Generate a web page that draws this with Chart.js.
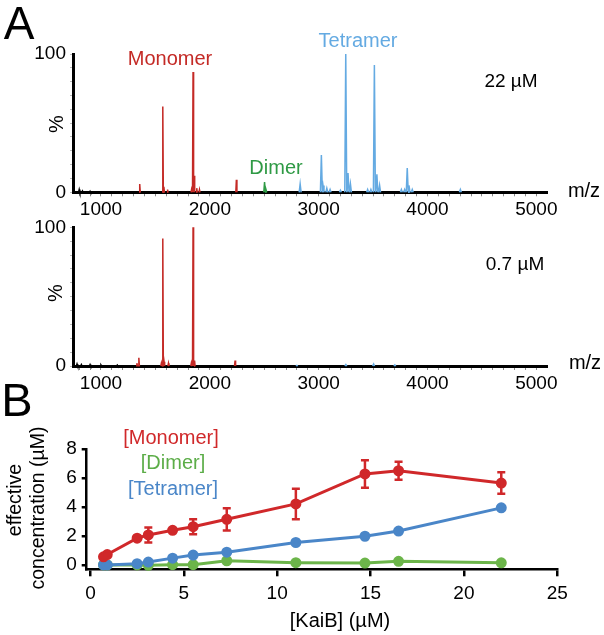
<!DOCTYPE html>
<html>
<head>
<meta charset="utf-8">
<script src="https://cdn.jsdelivr.net/npm/chart.js@4.4.0/dist/chart.umd.min.js"></script>
<style>
  body { margin: 0; background: #fff; }
  #page { position: relative; width: 604px; height: 635px; overflow: hidden; font-family: "Liberation Sans", Arial, sans-serif; }
  canvas { position: absolute; left: 0; }
  .lbl { position: absolute; line-height: 1; white-space: nowrap; transform: translate(-50%, -50%); }
  .rot { transform: translate(-50%, -50%) rotate(-90deg); }
</style>
</head>
<body>
<div id="page">
  <canvas id="specHigh" width="604" height="232" style="top:0"></canvas>
  <canvas id="specLow" width="604" height="190" style="top:208px"></canvas>
  <canvas id="conc" width="604" height="255" style="top:380px"></canvas>

  <div class="lbl" style="left:19px;top:23px;font-size:46px">A</div>
  <div class="lbl" style="left:170px;top:58px;font-size:20px;color:#c42a26">Monomer</div>
  <div class="lbl" style="left:276px;top:167px;font-size:20px;color:#2f9a45">Dimer</div>
  <div class="lbl" style="left:358px;top:40px;font-size:20px;color:#64aae2">Tetramer</div>
  <div class="lbl" style="left:511px;top:80px;font-size:19px">22 µM</div>
  <div class="lbl rot" style="left:56px;top:124px;font-size:20px">%</div>
  <div class="lbl" style="left:584px;top:190px;font-size:20px">m/z</div>

  <div class="lbl" style="left:515px;top:263px;font-size:19px">0.7 µM</div>
  <div class="lbl rot" style="left:55px;top:293px;font-size:20px">%</div>
  <div class="lbl" style="left:585px;top:362px;font-size:20px">m/z</div>

  <div class="lbl" style="left:17px;top:399px;font-size:47px">B</div>
  <div class="lbl" style="left:171px;top:437px;font-size:20px;color:#d0282a">[Monomer]</div>
  <div class="lbl" style="left:173px;top:462px;font-size:20px;color:#5cad48">[Dimer]</div>
  <div class="lbl" style="left:173px;top:488px;font-size:20px;color:#4a86c8">[Tetramer]</div>
  <div class="lbl rot" style="left:15px;top:500px;font-size:19.5px">effective</div>
  <div class="lbl rot" style="left:38px;top:508px;font-size:19.5px">concentration (µM)</div>
  <div class="lbl" style="left:340px;top:620px;font-size:20px">[KaiB] (µM)</div>
</div>

<script>
// ---- panel A : peak lists (m/z, % intensity)
// 22 uM
const hiNoiseMz = [800, 830, 900];
const hiNoisePct = [2, 1, 0.8];
const hiMonoMz = [1356, 1568, 1578, 1612, 1832, 1846, 1856, 1880, 1905, 2244];
const hiMonoPct = [6, 62, 4, 2, 2, 87, 12, 3, 2, 9];
const hiDimerMz = [2503, 2516];
const hiDimerPct = [7.4, 2];
const hiTetraMz = [2830, 3025, 3040, 3075, 3105, 3200, 3249, 3270, 3292, 3450, 3480, 3512, 3535, 3560, 3760, 3790, 3814, 3830, 3860, 4302];
const hiTetraPct = [6, 27, 5, 3, 2, 1.5, 100, 14, 6, 2, 2, 92, 13, 5, 2, 2, 17.5, 5, 2, 2];
// 0.7 uM
const loNoiseMz = [780, 820, 900, 1000, 1150];
const loNoisePct = [1.5, 1, 1, 0.7, 0.7];
const loMonoMz = [1330, 1348, 1555, 1568, 1580, 1620, 1830, 1846, 1860, 2232];
const loMonoPct = [2, 6, 2, 92, 3, 2, 2, 100, 4, 4];
const loTetraMz = [2800, 3250, 3505, 3700];
const loTetraPct = [0.5, 1, 1.5, 0.8];

const mzLabels = [1000, 2000, 3000, 4000, 5000];
const pctLabels = [0, 100];

// ---- panel B : effective concentrations vs [KaiB]
const kaiB = [0.7, 0.9, 2.5, 3.1, 4.4, 5.5, 7.3, 11, 14.7, 16.5, 22];
const monomer = [0.56, 0.72, 1.85, 2.07, 2.39, 2.64, 3.15, 4.21, 6.28, 6.5, 5.65];
const monomerErr = [0.05, 0.05, 0.08, 0.52, 0.08, 0.52, 0.77, 1.05, 0.95, 0.62, 0.74];
const dimer = [0, 0, 0, -0.02, 0.02, 0.02, 0.29, 0.16, 0.13, 0.25, 0.15];
const tetramer = [0, 0, 0.09, 0.2, 0.47, 0.68, 0.88, 1.55, 1.98, 2.34, 3.94];
const tetramerErr = [0, 0, 0, 0, 0, 0, 0, 0.15, 0.08, 0.08, 0.1];
const concTicks = [0, 2, 4, 6, 8];
const kaiBTicks = [0, 5, 10, 15, 20, 25];

const FONT = '"Liberation Sans", Arial, sans-serif';

// each peak becomes a thin spike, with a gap after it so the baseline stays black
function sticks(mz, pct, half) {
  const pts = [];
  mz.forEach((m, i) => {
    pts.push({ x: m - half, y: 0 }, { x: m, y: pct[i] }, { x: m + half, y: 0 }, { x: m + half, y: null });
  });
  return pts;
}

function trace(points, color) {
  return { data: points, borderColor: color, borderWidth: 1.5, pointRadius: 0, tension: 0, fill: false, clip: false, spanGaps: false };
}

function spectrum(id, datasets, top, bottomSpace) {
  const minorMz = [];
  for (let v = 800; v <= 5000; v += 100) minorMz.push(v);
  const minorPct = [];
  for (let v = 0; v <= 100; v += 10) minorPct.push(v);

  return new Chart(document.getElementById(id), {
    type: 'line',
    data: { datasets: datasets },
    options: {
      responsive: false,
      animation: false,
      devicePixelRatio: 1,
      layout: { padding: { top: top, right: 57, left: 0, bottom: 0 } },
      plugins: { legend: { display: false }, tooltip: { enabled: false } },
      scales: {
        x: {
          type: 'linear', min: 743, max: 5098,
          afterBuildTicks: s => { s.ticks = minorMz.map(v => ({ value: v })); },
          afterFit: s => { s.height = bottomSpace; },
          ticks: {
            autoSkip: false, maxRotation: 0, padding: 2, color: '#000',
            font: { family: FONT, size: 19 },
            callback: v => mzLabels.includes(v) ? String(v) : ''
          },
          grid: { drawOnChartArea: false, tickLength: 4, color: '#888', lineWidth: 1 },
          border: { color: '#000', width: 3 }
        },
        y: {
          min: 0, max: 100,
          afterBuildTicks: s => { s.ticks = minorPct.map(v => ({ value: v })); },
          afterFit: s => { s.width = 73; },
          ticks: {
            autoSkip: false, padding: 4, color: '#000',
            font: { family: FONT, size: 19 },
            callback: v => pctLabels.includes(v) ? String(v) : ''
          },
          grid: { drawOnChartArea: false, tickLength: 3, color: '#bbb', lineWidth: 1 },
          border: { color: '#000', width: 3 }
        }
      }
    }
  });
}

spectrum('specHigh', [
  trace(sticks(hiMonoMz, hiMonoPct, 5), '#c42a26'),
  trace(sticks(hiDimerMz, hiDimerPct, 7), '#2f9a45'),
  trace(sticks(hiTetraMz, hiTetraPct, 9), '#64aae2'),
  trace(sticks(hiNoiseMz, hiNoisePct, 6), '#000')
], 54, 39.7);

spectrum('specLow', [
  trace(sticks(loMonoMz, loMonoPct, 5), '#c42a26'),
  trace(sticks(loTetraMz, loTetraPct, 9), '#64aae2'),
  trace(sticks(loNoiseMz, loNoisePct, 6), '#000')
], 19.3, 32);

// error bars drawn through the y scale
const errorBars = {
  id: 'errorBars',
  afterDatasetsDraw(chart) {
    const ctx = chart.ctx;
    const y = chart.scales.y;
    chart.data.datasets.forEach((ds, i) => {
      if (!ds.errors) return;
      const meta = chart.getDatasetMeta(i);
      ctx.save();
      ctx.strokeStyle = ds.borderColor;
      ctx.lineWidth = 2.5;
      meta.data.forEach((pt, j) => {
        const e = ds.errors[j];
        if (!e) return;
        const v = ds.data[j].y;
        const top = y.getPixelForValue(v + e);
        const bot = y.getPixelForValue(v - e);
        ctx.beginPath();
        ctx.moveTo(pt.x, top); ctx.lineTo(pt.x, bot);
        ctx.moveTo(pt.x - 4, top); ctx.lineTo(pt.x + 4, top);
        ctx.moveTo(pt.x - 4, bot); ctx.lineTo(pt.x + 4, bot);
        ctx.stroke();
      });
      ctx.restore();
    });
  }
};

function series(values, errors, color) {
  return {
    data: kaiB.map((k, i) => ({ x: k, y: values[i] })),
    errors: errors,
    borderColor: color,
    backgroundColor: color,
    borderWidth: 3,
    pointStyle: 'circle',
    pointRadius: 4,
    tension: 0,
    fill: false,
    clip: false
  };
}

new Chart(document.getElementById('conc'), {
  type: 'line',
  data: {
    datasets: [
      series(monomer, monomerErr, '#d0282a'),
      series(tetramer, tetramerErr, '#4a86c8'),
      series(dimer, null, '#6cb54a')
    ]
  },
  options: {
    responsive: false,
    animation: false,
    devicePixelRatio: 1,
    layout: { padding: { top: 69, right: 46.7, left: 0, bottom: 0 } },
    plugins: { legend: { display: false }, tooltip: { enabled: false } },
    scales: {
      x: {
        type: 'linear', min: -0.2, max: 25,
        afterBuildTicks: s => { s.ticks = kaiBTicks.map(v => ({ value: v })); },
        afterFit: s => { s.height = 65.7; },
        ticks: { autoSkip: false, maxRotation: 0, padding: 6, color: '#000', font: { family: FONT, size: 19 } },
        grid: { drawOnChartArea: false, tickLength: 7, color: '#000', lineWidth: 2.5 },
        border: { color: '#000', width: 2.5 }
      },
      y: {
        min: -0.3, max: 8,
        afterBuildTicks: s => { s.ticks = concTicks.map(v => ({ value: v })); },
        afterFit: s => { s.width = 86.7; },
        ticks: { autoSkip: false, padding: 5, color: '#000', font: { family: FONT, size: 19 } },
        grid: { drawOnChartArea: false, tickLength: 5, color: '#000', lineWidth: 2.5 },
        border: { color: '#000', width: 2.5 }
      }
    }
  },
  plugins: [errorBars]
});
</script>
</body>
</html>
